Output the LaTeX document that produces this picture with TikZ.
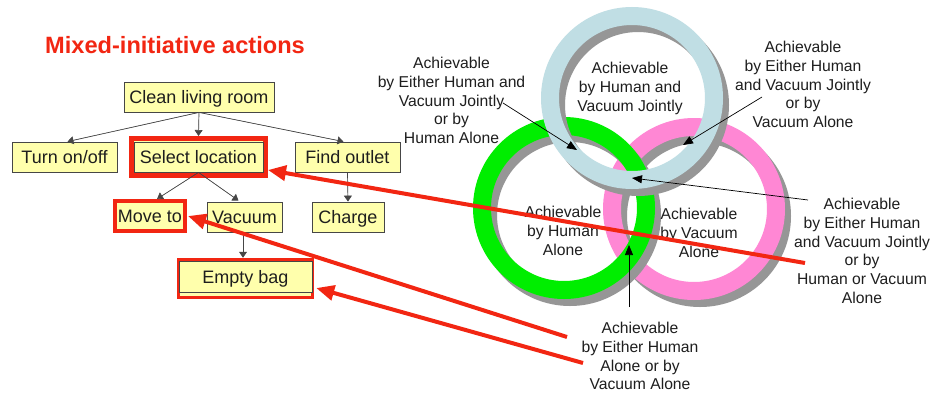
\documentclass[tikz,border=0pt]{standalone}
\usepackage{fontspec}
\setmainfont{Liberation Sans}
\usetikzlibrary{arrows.meta,calc}
\definecolor{boxfill}{RGB}{255,255,172}
\definecolor{boxline}{RGB}{70,70,70}
\definecolor{hred}{RGB}{242,38,18}
\definecolor{rgreen}{RGB}{0,238,0}
\definecolor{rpink}{RGB}{255,135,212}
\definecolor{rblue}{RGB}{192,222,228}
\definecolor{rshadow}{RGB}{150,150,150}
\definecolor{txt}{RGB}{30,30,30}
\begin{document}
\begin{tikzpicture}[x=1pt,y=-1pt,
  task/.style={draw=boxline, line width=0.8pt, fill=boxfill, minimum height=30pt,
    inner sep=0pt, text height=13pt, text depth=0pt, text=txt,
    font=\fontsize{18}{20}\selectfont},
  redframe/.style={draw=hred, line width=#1, fill=boxfill, inner sep=0pt},
  tarrow/.style={draw=boxline, line width=0.7pt, -{Triangle[length=6pt,width=8pt]}, fill=black},
  larrow/.style={draw=black, line width=0.7pt, -{Triangle[length=10pt,width=8pt]}},
  rarrow/.style={draw=hred, line width=4pt, -{Triangle[length=18pt,width=15pt]}},
  ringshadow/.style={draw=rshadow, line width=18pt},
  ring/.style={line width=18pt},
  lbl/.style={align=center, inner sep=0pt, anchor=north, text=txt,
    font=\fontsize{15.7}{18.8}\selectfont}]
\useasboundingbox (0,0) rectangle (932,394);
\fill[white] (0,0) rectangle (932,394);

% title
\node[anchor=base west, inner sep=0pt, text=hred, font=\fontsize{23.6}{26}\selectfont\bfseries]
  (title) at (45,53) {Mixed-initiative actions};

% tree nodes
\node[redframe=5pt, minimum width=134pt, minimum height=37pt] (selframe) at (198.5,157) {};
\node[redframe=3.5pt, minimum width=134pt, minimum height=38pt] (bagframe) at (245.5,278.5) {};
\node[task, minimum width=150pt] (clean) at (199,97) {Clean living room};
\node[task, minimum width=105pt] (turn) at (64.5,157) {Turn on/off};
\node[task, minimum width=129pt] (select) at (198.5,157) {Select location};
\node[task, minimum width=105pt] (find) at (347.5,157) {Find outlet};
\node[task, draw=hred, line width=4pt, minimum width=70pt] (move) at (150,216) {Move to};
\node[task, minimum width=75pt] (vac) at (244.5,217) {Vacuum};
\node[task, minimum width=72pt] (charge) at (348,217) {Charge};
\node[task, minimum width=133pt, minimum height=31pt] (bag) at (245.5,276.5) {Empty bag};

% tree connectors
\draw[tarrow] (clean.south) -- ($(turn.north)+(3,0)$);
\draw[tarrow] (clean.south) -- (selframe.north);
\draw[tarrow] (clean.south) -- ($(find.north)+(-4,0)$);
\draw[tarrow] (select.south) -- ($(move.north)+(7,0)$);
\draw[tarrow] (select.south) -- ($(vac.north)+(-6,-1)$);
\draw[tarrow] (find.south) -- (charge.north);
\draw[tarrow] ($(vac.south)+(-1.5,0)$) -- ($(bagframe.north)+(-2.5,0)$);

% rings
\coordinate (cg) at (564,208);
\coordinate (cp) at (694,209);
\coordinate (cb) at (632,98);
\draw[ringshadow] ($(cp)+(6,7)$) circle[radius=82pt];
\draw[ring, draw=rpink] (cp) circle[radius=82pt];
\draw[ringshadow] ($(cg)+(6,7)$) circle[radius=82pt];
\draw[ring, draw=rgreen] (cg) circle[radius=82pt];
\draw[ringshadow] ($(cb)+(6,7)$) circle[radius=82pt];
\draw[ring, draw=rblue] (cb) circle[radius=82pt];

% labels
\node[lbl] (l1) at (451.5,57) {Achievable\\by Either Human and\\Vacuum Jointly\\or by\\Human Alone};
\node[lbl] (l2) at (803,41) {Achievable\\by Either Human\\and Vacuum Jointly\\or by\\Vacuum Alone};
\node[lbl] (l3) at (630,62) {Achievable\\by Human and\\Vacuum Jointly};
\node[lbl] (l4) at (563,206) {Achievable\\by Human\\Alone};
\node[lbl] (l5) at (699,208) {Achievable\\by Vacuum\\Alone};
\node[lbl] (l6) at (862,198) {Achievable\\by Either Human\\and Vacuum Jointly\\or by\\Human or Vacuum\\Alone};
\node[lbl] (l7) at (640,322) {Achievable\\by Either Human\\Alone or by\\Vacuum Alone};

% label connectors
\coordinate (a1s) at (503,103); \coordinate (a1e) at (577,150);
\coordinate (a2s) at (762,97);  \coordinate (a2e) at (683,145);
\coordinate (a3s) at (808,200); \coordinate (a3e) at (632,178);
\coordinate (a4s) at (629,307); \coordinate (a4e) at (629,245);
\draw[larrow] (a1s) -- (a1e);
\draw[larrow] (a2s) -- (a2e);
\draw[larrow] (a3s) -- (a3e);
\draw[larrow] (a4s) -- (a4e);

% red connectors
\coordinate (r1s) at (805,263);
\coordinate (r2s) at (567,337);
\coordinate (r3s) at (583,363);
\draw[rarrow] (r1s) -- ($(selframe.east)+(0,13)$);
\draw[rarrow] (r2s) -- ($(move.east)+(1,0)$);
\draw[rarrow] (r3s) -- ($(bagframe.east)+(2,9.5)$);
\end{tikzpicture}
\end{document}
